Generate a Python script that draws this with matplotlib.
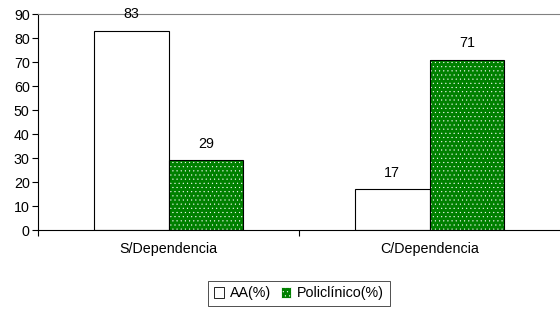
import matplotlib
matplotlib.use("Agg")
import matplotlib.pyplot as plt
import numpy as np
from matplotlib.patches import Patch

plt.rcParams['font.family'] = ['Liberation Sans', 'DejaVu Sans']
plt.rcParams['hatch.linewidth'] = 0.3

categories = ["S/Dependencia", "C/Dependencia"]
aa = [83, 17]
poli = [29, 71]
series_names = ["AA(%)", "Policlínico(%)"]
yticks = [0, 10, 20, 30, 40, 50, 60, 70, 80, 90]

fig = plt.figure(figsize=(5.6, 3.09), dpi=100)
ax = fig.add_axes([38/560, 1 - 230/309, 522/560, 216/309])

x = np.arange(len(categories))
w = 0.287
green = "#008000"
fs = 10.3

ax.bar(x - w/2, aa, w, color="white", edgecolor="black", linewidth=0.8, zorder=2)
ax.bar(x + w/2, poli, w, color=green, edgecolor="white", hatch="....", linewidth=0, zorder=2)
ax.bar(x + w/2, poli, w, fill=False, edgecolor="black", linewidth=0.8, zorder=3)

for xi, v in zip(x - w/2, aa):
    ax.text(xi, v + 4, str(v), ha="center", va="bottom", fontsize=fs, clip_on=False)
for xi, v in zip(x + w/2, poli):
    ax.text(xi, v + 4, str(v), ha="center", va="bottom", fontsize=fs, clip_on=False)

ax.set_xlim(-0.5, 1.5)
ax.set_ylim(0, 90)
ax.set_yticks(yticks)
ax.tick_params(axis='y', labelsize=fs, length=4, width=0.8, direction='out', pad=2)
ax.set_xticks(x)
ax.set_xticklabels(categories, fontsize=fs)
ax.tick_params(axis='x', length=0, pad=9)
ax.set_xticks([-0.5, 0.5], minor=True)
ax.tick_params(axis='x', which='minor', length=4, width=0.8, direction='out')

ax.spines['right'].set_visible(False)
ax.spines['top'].set_color('#808080')
ax.spines['top'].set_linewidth(0.8)
for s in ['left', 'bottom']:
    ax.spines[s].set_linewidth(0.8)

handles = [Patch(facecolor="white", edgecolor="black", linewidth=0.6),
           Patch(facecolor=green, edgecolor="white", hatch="....", linewidth=0.6)]
leg = fig.legend(handles, series_names, loc="center", bbox_to_anchor=(299/560, 1 - 293.5/309),
                 ncol=2, fontsize=fs, frameon=True, fancybox=False, edgecolor="black",
                 handlelength=0.7, handleheight=0.7, handletextpad=0.4, columnspacing=0.7,
                 borderpad=0.4, borderaxespad=0)
leg.get_frame().set_linewidth(0.6)

fig.savefig("out.png", dpi=100)
